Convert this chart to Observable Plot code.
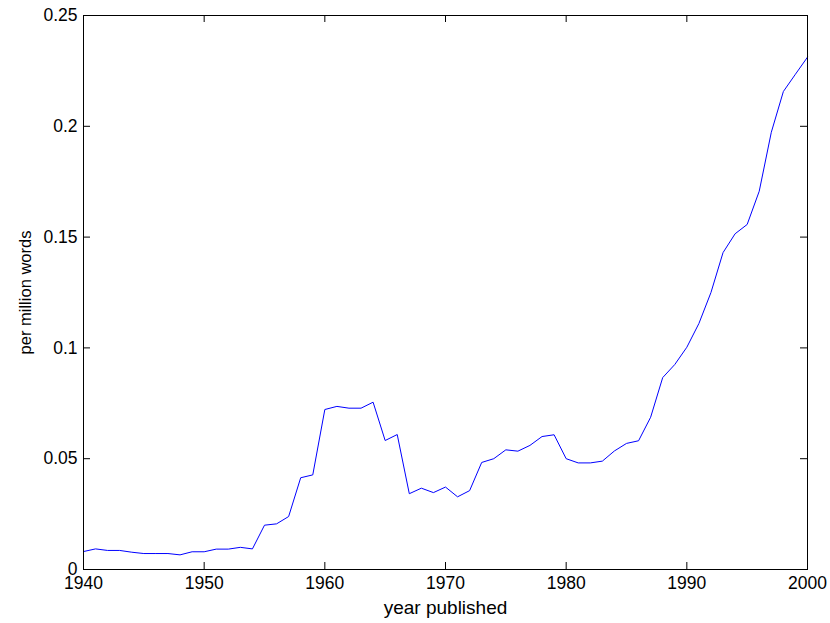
<!DOCTYPE html>
<html>
<head>
<meta charset="utf-8">
<script src="https://cdn.jsdelivr.net/npm/d3@7"></script>
<script src="https://cdn.jsdelivr.net/npm/@observablehq/plot@0.6"></script>
<style>
  html, body { margin: 0; padding: 0; background: #fff; }
  #chart svg { display: block; }
</style>
</head>
<body>
<div id="chart"></div>
<script>
const years = d3.range(1940, 2001);
const values = [
  0.0081, 0.0093, 0.0086, 0.0086, 0.0078, 0.0072, 0.0072, 0.0072, 0.0066, 0.0080,
  0.0080, 0.0092, 0.0092, 0.0100, 0.0093, 0.0200, 0.0206, 0.0239, 0.0414, 0.0427,
  0.0722, 0.0736, 0.0728, 0.0728, 0.0755, 0.0582, 0.0609, 0.0342, 0.0367, 0.0347,
  0.0372, 0.0328, 0.0356, 0.0483, 0.0500, 0.0540, 0.0534, 0.0560, 0.0600, 0.0608,
  0.0500, 0.0481, 0.0481, 0.0489, 0.0535, 0.0569, 0.0581, 0.0687, 0.0866, 0.0925,
  0.1003, 0.1110, 0.1250, 0.1430, 0.1515, 0.1557, 0.1707, 0.1973, 0.2157, 0.2235,
  0.2312
];
const xTicks = [1940, 1950, 1960, 1970, 1980, 1990, 2000];
const yTicks = [0, 0.05, 0.1, 0.15, 0.2, 0.25];
const yTickLabels = ["0", "0.05", "0.1", "0.15", "0.2", "0.25"];
const xLabel = "year published";
const yLabel = "per million words";

const data = years.map((y, i) => ({year: y, value: values[i]}));

const W = 830, H = 623;
const mL = 83, mR = 23, mT = 15, mB = 54;
const innerH = H - mT - mB, innerW = W - mL - mR;
const tickLen = 7;

const chart = Plot.plot({
  width: W,
  height: H,
  marginLeft: mL,
  marginRight: mR,
  marginTop: mT,
  marginBottom: mB,
  style: {fontFamily: "'Liberation Sans', Arial, Helvetica, sans-serif", fontSize: "17.5px", color: "#000", background: "#fff"},
  x: {domain: [1940, 2000]},
  y: {domain: [0, 0.25]},
  marks: [
    Plot.line(data, {x: "year", y: "value", stroke: "#0000ff", strokeWidth: 1}),
    Plot.frame({stroke: "#000", strokeWidth: 1}),
    // inward ticks: bottom and top
    Plot.tickX(xTicks, {x: d => d, stroke: "#000", insetTop: innerH - tickLen}),
    Plot.tickX(xTicks, {x: d => d, stroke: "#000", insetBottom: innerH - tickLen}),
    // inward ticks: left and right
    Plot.tickY(yTicks, {y: d => d, stroke: "#000", insetRight: innerW - tickLen}),
    Plot.tickY(yTicks, {y: d => d, stroke: "#000", insetLeft: innerW - tickLen}),
    Plot.axisX(xTicks, {tickSize: 0, tickPadding: 7, tickFormat: d => String(d), label: null, fontSize: 17.5}),
    Plot.axisY(yTicks, {tickSize: 0, tickPadding: 6, tickFormat: d => yTickLabels[yTicks.indexOf(d)], label: null, fontSize: 17.5}),
    Plot.text([xLabel], {frameAnchor: "bottom", dy: 38, fontSize: 19, fill: "#000", lineAnchor: "middle", textAnchor: "middle"}),
    Plot.text([yLabel], {frameAnchor: "left", dx: -58, rotate: -90, fontSize: 16.5, fill: "#000", lineAnchor: "middle", textAnchor: "middle"})
  ]
});
document.getElementById("chart").appendChild(chart);
</script>
</body>
</html>
